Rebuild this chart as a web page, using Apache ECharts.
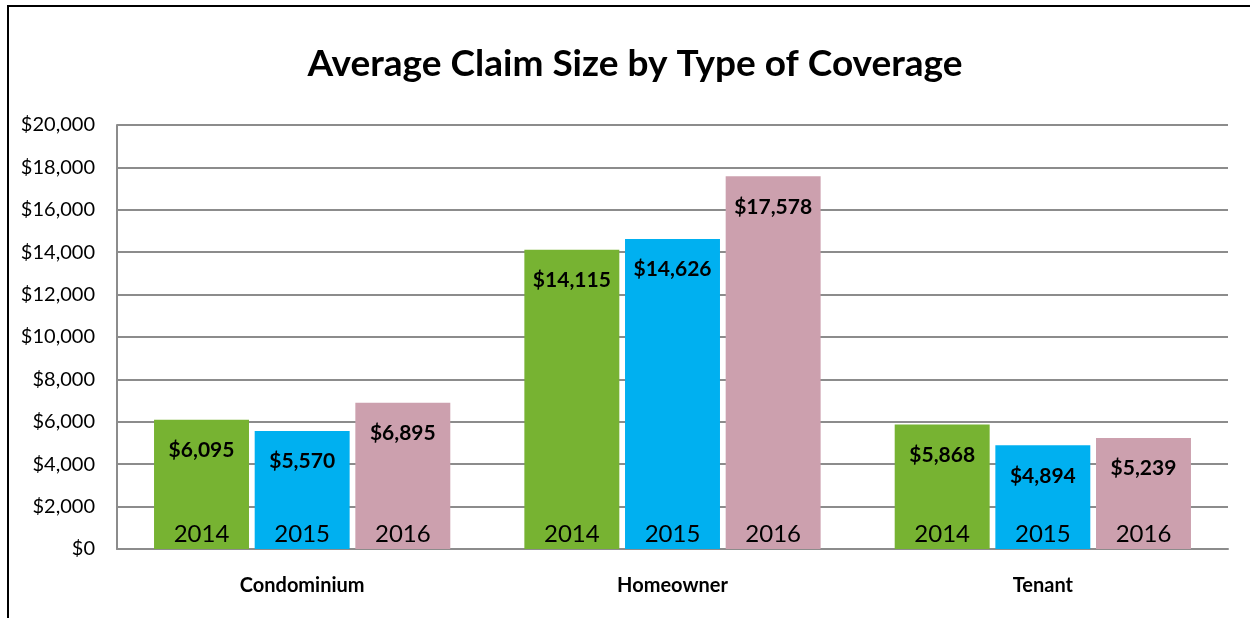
<!DOCTYPE html>
<html>
<head>
<meta charset="utf-8">
<script src="https://cdn.jsdelivr.net/npm/echarts@6/dist/echarts.min.js"></script>
<style>
  html, body { margin: 0; padding: 0; background: #fff; }
  #main { width: 1250px; height: 618px; }
</style>
</head>
<body>
<div id="main"></div>
<script>
var categories = ['Condominium', 'Homeowner', 'Tenant'];
var years = ['2014', '2015', '2016'];
var v2014 = [6095, 14115, 5868];
var v2015 = [5570, 14626, 4894];
var v2016 = [6895, 17578, 5239];
var colors = ['#77B332', '#00B0F0', '#CCA0AE'];

var FONT = 'Lato, "Liberation Sans Narrow", sans-serif';
var values = [v2014, v2015, v2016];

function money(v) {
    return '$' + Number(v).toLocaleString('en-US');
}

var series = [];
// value bars with dollar labels
years.forEach(function (y, i) {
    series.push({
        name: y,
        type: 'bar',
        xAxisIndex: 0,
        data: values[i],
        barGap: '6%',
        barCategoryGap: '20%',
        itemStyle: { color: colors[i] },
        label: {
            show: true,
            position: 'insideTop',
            distance: 20,
            formatter: function (p) { return money(p.value); },
            fontFamily: FONT,
            fontWeight: 'bold',
            fontSize: 21,
            color: '#000'
        },
        silent: true
    });
});
// transparent copies on a hidden axis, only for the year label at the bar bottom
years.forEach(function (y, i) {
    series.push({
        name: y + ' label',
        type: 'bar',
        xAxisIndex: 1,
        data: values[i],
        barGap: '6%',
        barCategoryGap: '20%',
        itemStyle: { color: 'rgba(0,0,0,0)' },
        label: {
            show: true,
            position: 'insideBottom',
            distance: 3,
            formatter: y,
            fontFamily: FONT,
            fontSize: 24,
            color: '#000'
        },
        silent: true,
        z: 3
    });
});

var myChart = echarts.init(document.getElementById('main'));
var option = {
    animation: false,
    title: {
        text: 'Average Claim Size by Type of Coverage',
        left: 630,
        textAlign: 'center',
        top: 41,
        textStyle: {
            fontFamily: FONT,
            fontWeight: 'bold',
            fontSize: 37,
            color: '#000'
        }
    },
    graphic: [{
        type: 'rect',
        shape: { x: 8, y: 6, width: 1400, height: 800 },
        style: { fill: 'none', stroke: '#000', lineWidth: 2 },
        silent: true
    }],
    grid: { left: 117, right: 22, top: 125, bottom: 69 },
    xAxis: [{
        type: 'category',
        data: categories,
        axisLine: { lineStyle: { color: '#8c8c8c', width: 2 } },
        axisTick: { show: false },
        axisLabel: {
            margin: 27,
            fontFamily: FONT,
            fontWeight: 'bold',
            fontSize: 20,
            color: '#000'
        }
    }, {
        type: 'category',
        data: categories,
        show: false
    }],
    yAxis: {
        type: 'value',
        min: 0,
        max: 20000,
        interval: 2000,
        axisLine: { show: true, lineStyle: { color: '#8c8c8c', width: 2 } },
        axisTick: { show: false },
        splitLine: { lineStyle: { color: '#8c8c8c', width: 2 } },
        axisLabel: {
            margin: 22,
            formatter: money,
            fontFamily: FONT,
            fontSize: 20,
            color: '#000'
        }
    },
    series: series
};
myChart.setOption(option);
</script>
</body>
</html>
